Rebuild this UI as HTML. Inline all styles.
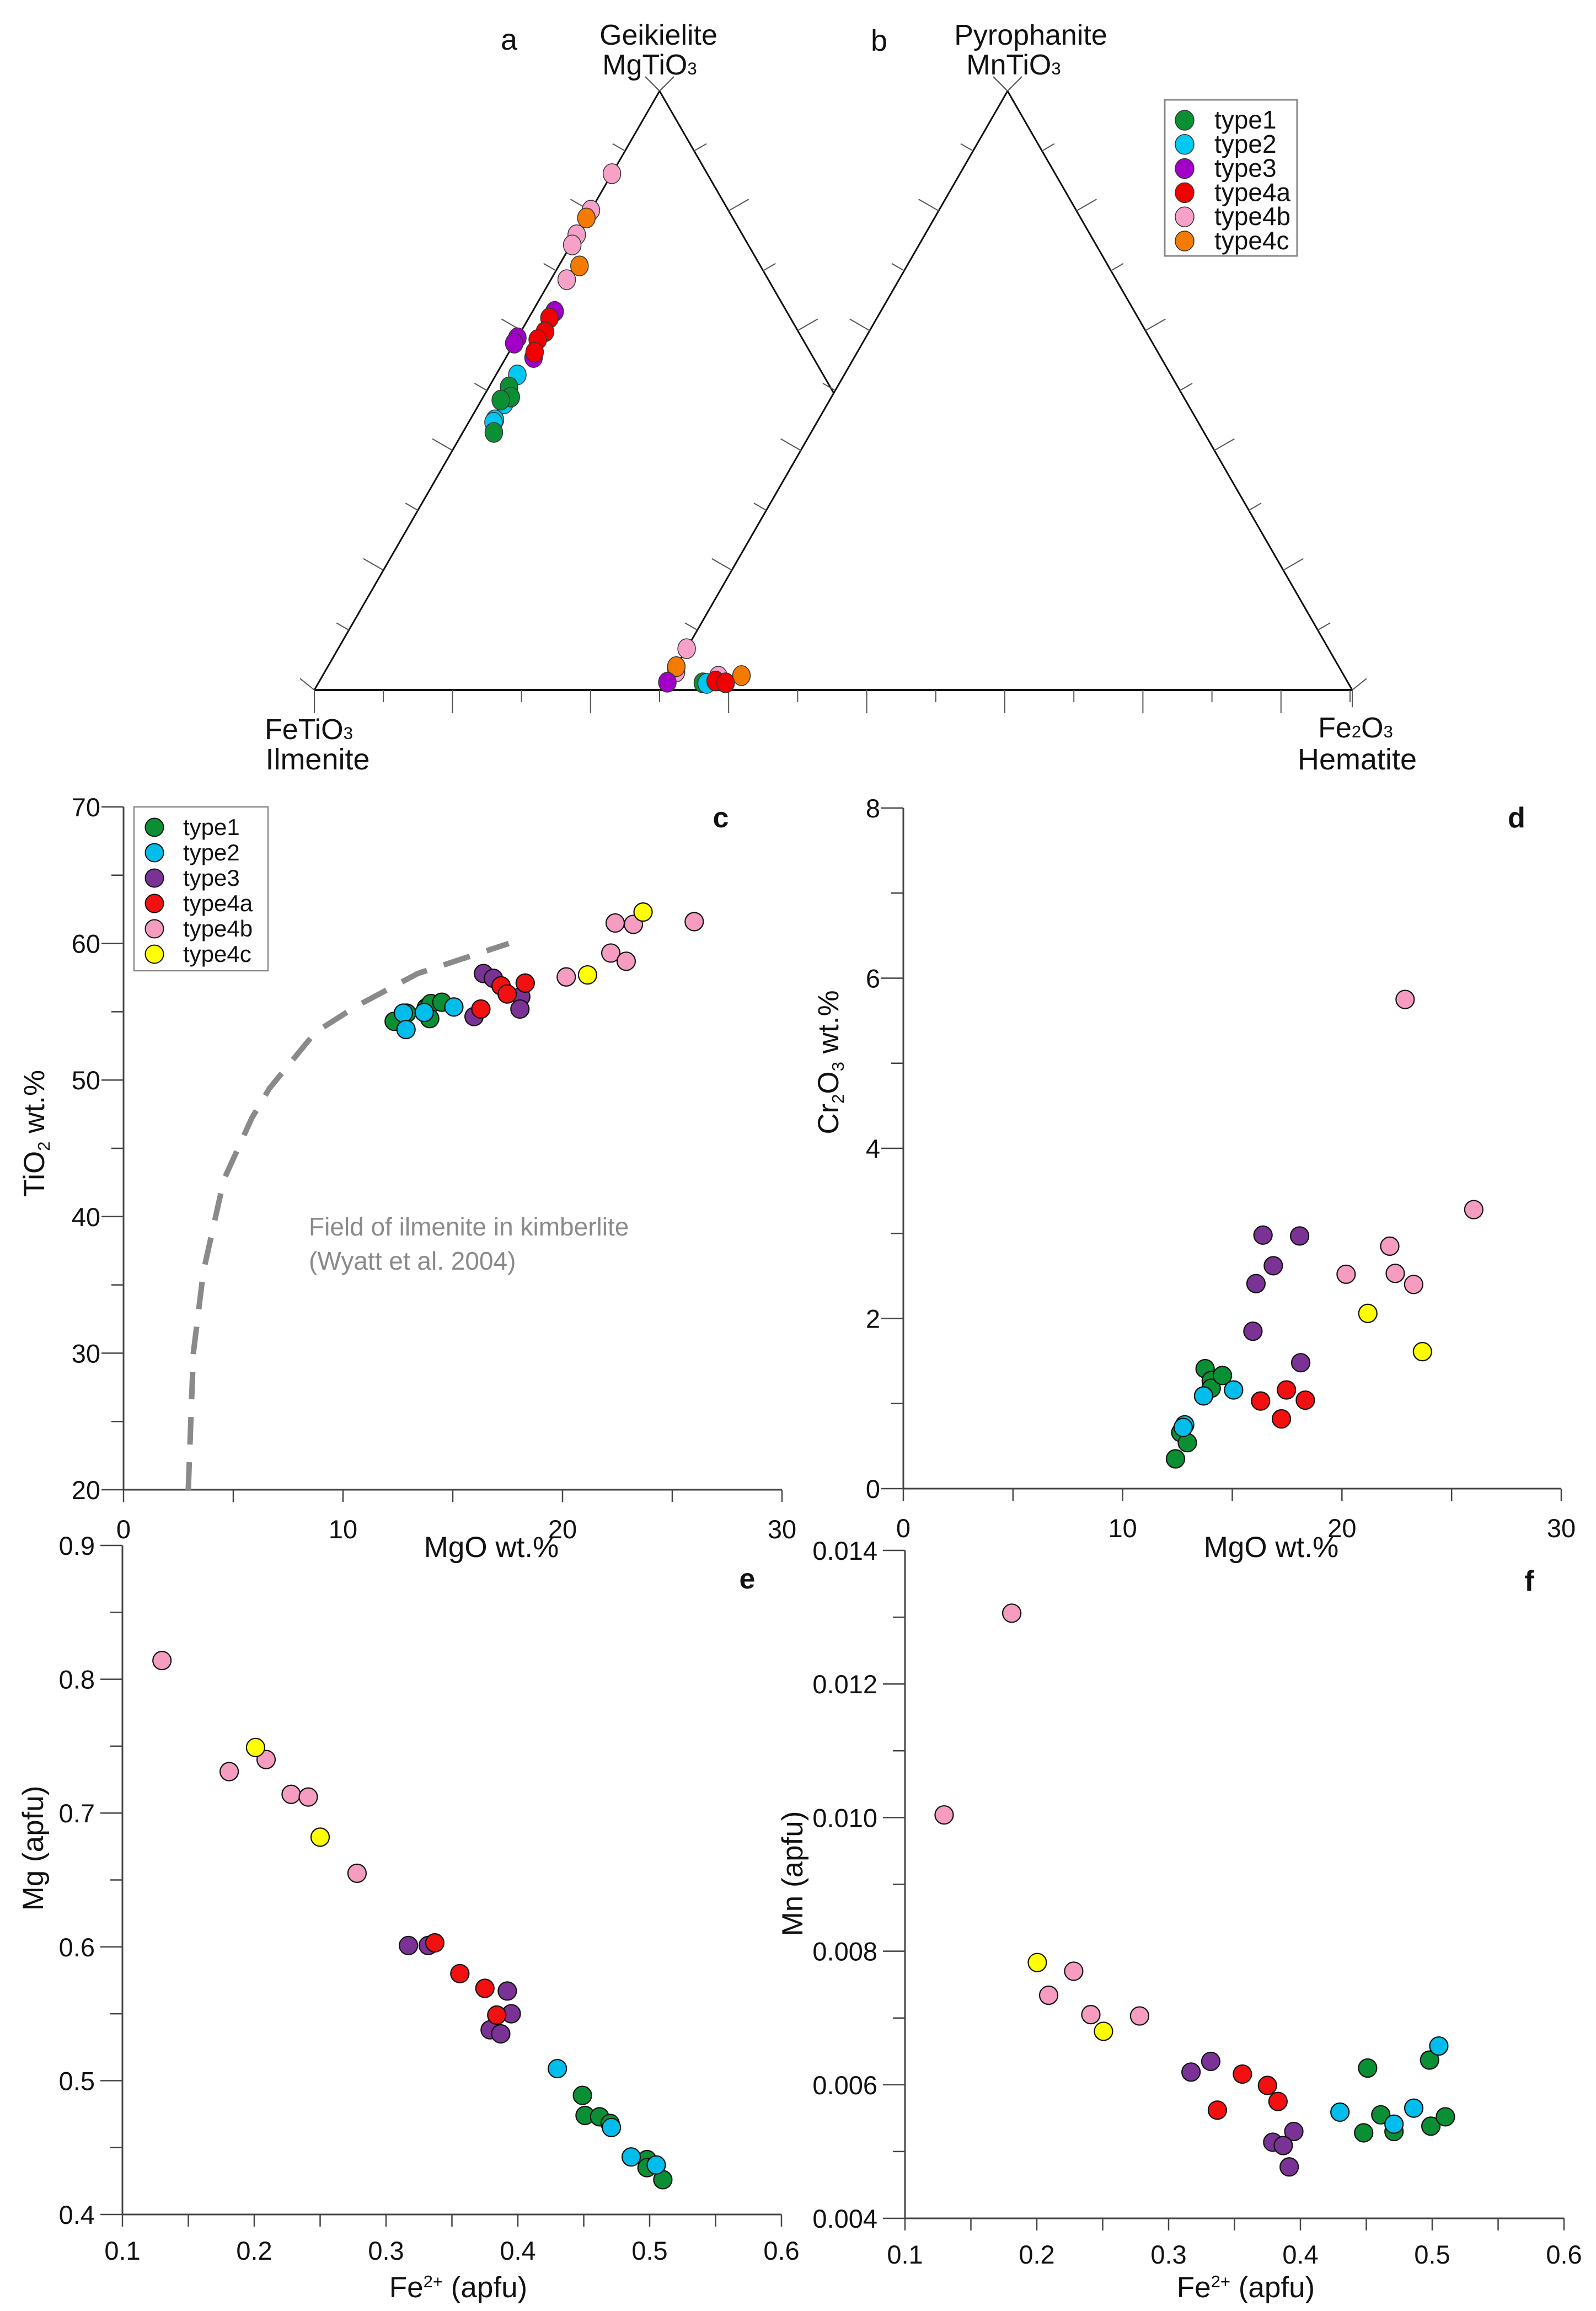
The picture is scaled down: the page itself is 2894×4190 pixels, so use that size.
<!DOCTYPE html>
<html><head><meta charset="utf-8">
<style>
html,body{margin:0;padding:0;background:#fff;}
svg{display:block;}
text{font-family:"Liberation Sans",Arial,sans-serif;fill:#111;}
.cond{font-family:"Liberation Sans Narrow","Liberation Sans",sans-serif;}
</style></head>
<body>
<svg id="fig" xmlns="http://www.w3.org/2000/svg" width="2894" height="4190" viewBox="0 0 2894 4190">
<rect x="0" y="0" width="2894" height="4190" fill="#fff"/>
<g id="tern"></g>
<g id="chartC"></g>
<g id="chartD"></g>
<g id="chartE"></g>
<g id="chartF"></g>
</svg>
<script>
// ---------- data ----------
const typeNames = ["type1","type2","type3","type4a","type4b","type4c"];
// ternary a (fractions MgTiO3, Fe2O3)
const aMg_type1 = [0.506,0.489,0.484,0.43];
const aHem_type1 = [0.029,0.04,0.028,0.045];
const aMg_type2 = [0.526,0.478,0.451,0.447];
const aHem_type2 = [0.031,0.036,0.036,0.036];
const aMg_type3 = [0.632,0.588,0.579,0.555];
const aHem_type3 = [0.032,0.0,0.0,0.04];
const aMg_type4a = [0.621,0.598,0.585,0.564];
const aHem_type4a = [0.03,0.035,0.031,0.037];
const aMg_type4b = [0.862,0.801,0.76,0.743,0.685];
const aHem_type4b = [0.0,0.0,0.0,0.002,0.023];
const aMg_type4c = [0.788,0.708];
const aHem_type4c = [0.0,0.03];
// ternary b (fractions MnTiO3, Fe2O3)
const bMn_type1 = [0.012];
const bHem_type1 = [0.052];
const bMn_type2 = [0.011];
const bHem_type2 = [0.058];
const bMn_type3 = [0.013];
const bHem_type3 = [0.0];
const bMn_type4a = [0.015,0.012];
const bHem_type4a = [0.069,0.085];
const bMn_type4b = [0.069,0.030,0.023];
const bHem_type4b = [0.0,0.004,0.069];
const bMn_type4c = [0.039,0.024];
const bHem_type4c = [0.0,0.102];
// chart c
const cMgO_type1 = [12.33,12.9,13.8,14.0,13.95,14.5];
const cTiO2_type1 = [54.3,54.9,55.3,55.6,54.5,55.7];
const cMgO_type2 = [12.75,12.87,13.7,15.05];
const cTiO2_type2 = [54.9,53.7,54.95,55.35];
const cMgO_type3 = [16.4,16.85,15.97,18.1,18.06];
const cTiO2_type3 = [57.8,57.45,54.65,56.1,55.2];
const cMgO_type4a = [16.28,17.2,17.48,18.3];
const cTiO2_type4a = [55.2,56.9,56.3,57.1];
const cMgO_type4b = [20.17,22.2,22.4,23.23,22.9,26.0];
const cTiO2_type4b = [57.55,59.3,61.5,61.4,58.7,61.6];
const cMgO_type4c = [21.14,23.67];
const cTiO2_type4c = [57.7,62.3];
const fieldMgO = [2.95,3.18,3.64,4.57,5.84,6.65,8.74,10.6,13.4,17.55];
const fieldTiO2 = [20,30,36,42.7,47.2,49.4,53.5,55.4,57.8,60];
const cXTicks = [0,10,20,30];
const cYTicks = [20,30,40,50,60,70];
// chart d
const dMgO_type1 = [12.41,12.65,12.95,13.76,14.04,14.04,14.55];
const dCr_type1 = [0.35,0.66,0.54,1.41,1.27,1.18,1.33];
const dMgO_type2 = [12.83,12.76,13.69,15.06];
const dCr_type2 = [0.75,0.72,1.09,1.16];
const dMgO_type3 = [16.4,16.87,16.08,15.94,18.07,18.12];
const dCr_type3 = [2.98,2.62,2.41,1.85,2.97,1.48];
const dMgO_type4a = [16.29,17.47,17.24,18.33];
const dCr_type4a = [1.03,1.16,0.82,1.04];
const dMgO_type4b = [20.19,22.18,22.43,23.27,22.88,26.01];
const dCr_type4b = [2.52,2.85,2.53,2.40,5.75,3.28];
const dMgO_type4c = [21.18,23.67];
const dCr_type4c = [2.06,1.61];
const dXTicks = [0,10,20,30];
const dYTicks = [0,2,4,6,8];
// chart e
const eFe_type1 = [0.449,0.451,0.462,0.470,0.498,0.498,0.510];
const eMg_type1 = [0.489,0.474,0.473,0.468,0.441,0.435,0.426];
const eFe_type2 = [0.430,0.471,0.486,0.505];
const eMg_type2 = [0.509,0.465,0.443,0.437];
const eFe_type3 = [0.317,0.332,0.392,0.395,0.379,0.387];
const eMg_type3 = [0.601,0.601,0.567,0.550,0.538,0.535];
const eFe_type4a = [0.337,0.356,0.375,0.384];
const eMg_type4a = [0.603,0.580,0.569,0.549];
const eFe_type4b = [0.130,0.181,0.209,0.228,0.241,0.278];
const eMg_type4b = [0.814,0.731,0.740,0.714,0.712,0.655];
const eFe_type4c = [0.201,0.250];
const eMg_type4c = [0.749,0.682];
const eXTicks = ["0.1","0.2","0.3","0.4","0.5","0.6"];
const eYTicks = ["0.4","0.5","0.6","0.7","0.8","0.9"];
// chart f
const fFe_type1 = [0.451,0.448,0.461,0.471,0.498,0.499,0.510];
const fMn_type1 = [0.00625,0.00528,0.00555,0.0053,0.00637,0.00538,0.00552];
const fFe_type2 = [0.430,0.471,0.486,0.505];
const fMn_type2 = [0.00559,0.00541,0.00565,0.00658];
const fFe_type3 = [0.317,0.332,0.395,0.379,0.387,0.3915];
const fMn_type3 = [0.00619,0.00635,0.0053,0.00514,0.00509,0.00477];
const fFe_type4a = [0.337,0.356,0.375,0.383];
const fMn_type4a = [0.00562,0.00616,0.00599,0.00575];
const fFe_type4b = [0.1297,0.181,0.209,0.228,0.241,0.278];
const fMn_type4b = [0.01004,0.01306,0.00734,0.0077,0.00705,0.00703];
const fFe_type4c = [0.2004,0.2506];
const fMn_type4c = [0.00783,0.0068];
const fXTicks = ["0.1","0.2","0.3","0.4","0.5","0.6"];
const fYTicks = ["0.004","0.006","0.008","0.010","0.012","0.014"];

// ---------- helpers ----------
const NS = "http://www.w3.org/2000/svg";
function mk(tag, attrs, parent){
  const e = document.createElementNS(NS, tag);
  for (const k in attrs) e.setAttribute(k, attrs[k]);
  parent.appendChild(e);
  return e;
}
const colA = {type1:"#0b8f35",type2:"#00c8f0",type3:"#a200c8",type4a:"#f20000",type4b:"#f7a0c8",type4c:"#f57a00"};
const colC = {type1:"#0b8f35",type2:"#00bdec",type3:"#7a3394",type4a:"#f21010",type4b:"#f59cc0",type4c:"#ffff00"};

// ---------- ternary ----------
const T = document.getElementById("tern");
const I = [570,1251], G = [1196,165], H1 = [1822,1251];
const L2 = [1202,1251], P = [1827,165], H2 = [2452,1251];
const X = [1512,713];
function tline(a,b,w){
  const l = mk("line",{x1:a[0],y1:a[1],x2:b[0],y2:b[1],stroke:"#111","stroke-width":w||3},T);
  
  
}
tline(I,G); tline(G,X); tline(L2,P); tline(P,H2);
tline(I,H2,4);
function ticksAlong(a,b,nx,ny,n,maxI){
  for (let i=1;i<n;i++){
    if (maxI && i>maxI) break;
    const t=i/n;
    const px=a[0]+(b[0]-a[0])*t, py=a[1]+(b[1]-a[1])*t;
    const len = (i%2===0)?42:26;
    const tk = mk("line",{x1:px,y1:py,x2:px+nx*len,y2:py+ny*len,stroke:"#555","stroke-width":2},T);
    
    
  }
}
ticksAlong(I,G,-0.866,-0.5,10);
ticksAlong(G,H1,0.866,-0.5,10,4);
ticksAlong(L2,P,-0.866,-0.5,10);
ticksAlong(P,H2,0.866,-0.5,10);
// base ticks
for (let i=0;i<=15;i++){
  const x = I[0]+i*125.2;
  const len = (i%2===0)?42:22;
  const tk = mk("line",{x1:x,y1:1251,x2:x,y2:1251+len,stroke:"#555","stroke-width":2},T);
  
  
}
// vertex marks
[[G,[-1,-1],[1,-1]],[P,[-1,-1],[1,-1]],[I,[-1,-0.8],[0,1.2]],[H2,[1,-0.8],[0,1.2]]].forEach(v=>{
  [v[1],v[2]].forEach(d=>{
    const vm = mk("line",{x1:v[0][0],y1:v[0][1],x2:v[0][0]+d[0]*26,y2:v[0][1]+d[1]*26,stroke:"#555","stroke-width":2},T);
    
    
  });
});
function ternPos(A,B,C,fb,fc){
  return [A[0]+fb*(B[0]-A[0])+fc*(C[0]-A[0]), A[1]+fb*(B[1]-A[1])+fc*(C[1]-A[1])];
}
const aSeries = {type1:[aMg_type1,aHem_type1],type2:[aMg_type2,aHem_type2],type3:[aMg_type3,aHem_type3],type4a:[aMg_type4a,aHem_type4a],type4b:[aMg_type4b,aHem_type4b],type4c:[aMg_type4c,aHem_type4c]};
const bSeries = {type1:[bMn_type1,bHem_type1],type2:[bMn_type2,bHem_type2],type3:[bMn_type3,bHem_type3],type4a:[bMn_type4a,bHem_type4a],type4b:[bMn_type4b,bHem_type4b],type4c:[bMn_type4c,bHem_type4c]};
["type4b","type4c","type3","type4a","type2","type1"].forEach(k=>{
  const s=aSeries[k];
  s[0].forEach((m,i)=>{
    const p=ternPos(I,G,H1,m,s[1][i]);
    const c=mk("ellipse",{cx:p[0],cy:p[1],rx:16,ry:18,fill:colA[k],stroke:"#333","stroke-width":1.5},T);
    
    
  });
});
["type4b","type4c","type3","type1","type2","type4a"].forEach(k=>{
  const s=bSeries[k];
  s[0].forEach((m,i)=>{
    const p=ternPos(L2,P,H2,m,s[1][i]);
    const c=mk("ellipse",{cx:p[0],cy:p[1],rx:16,ry:18,fill:colA[k],stroke:"#333","stroke-width":1.5},T);
    
    
  });
});
function ttext(x,y,str,size,anchor,name,sub){
  const t=mk("text",{x:x,y:y,"font-size":size,"text-anchor":anchor||"middle",class:"cond"},T);
  t.textContent=str;
  if(sub){const ts=mk("tspan",{"font-size":size*0.6},t); ts.textContent=sub;}
  
  
  return t;
}
ttext(923,90,"a",54,"middle","panel-label-a");
ttext(1194,81,"Geikielite",52,"middle","apex-label-geikielite");
ttext(1178,135,"MgTiO",52,"middle","apex-formula-mgtio3","3");
ttext(1594,92,"b",54,"middle","panel-label-b");
ttext(1869,81,"Pyrophanite",52,"middle","apex-label-pyrophanite");
ttext(1838,135,"MnTiO",52,"middle","apex-formula-mntio3","3");
ttext(560,1340,"FeTiO",52,"middle","vertex-formula-fetio3","3");
ttext(576,1395,"Ilmenite",54,"middle","vertex-label-ilmenite");
(function(){
  const t=ttext(2458,1337,"Fe",52,"middle","vertex-formula-fe2o3");
  const s=mk("tspan",{"font-size":31},t); s.textContent="2";
  const s2=mk("tspan",{},t); s2.textContent="O";
  const s3=mk("tspan",{"font-size":31},t); s3.textContent="3";
})();
ttext(2461,1395,"Hematite",54,"middle","vertex-label-hematite");
// ternary legend
const lgA = mk("g",{},T);


mk("rect",{x:2112,y:181,width:240,height:283,fill:"#fff",stroke:"#888","stroke-width":3},lgA);
typeNames.forEach((k,i)=>{
  const y=218+i*43.8;
  const c=mk("ellipse",{cx:2148,cy:y,rx:17,ry:18,fill:colA[k],stroke:"#333","stroke-width":1.5},lgA);
  
  
  const t=mk("text",{x:2202,y:y+15,"font-size":46,class:"cond"},lgA);
  t.textContent=k;
  
  
});

// ---------- scatter charts ----------
function scatter(g, cfg){
  const sx = v => cfg.px0 + (v-cfg.xmin)/(cfg.xmax-cfg.xmin)*(cfg.px1-cfg.px0);
  const sy = v => cfg.py0 - (v-cfg.ymin)/(cfg.ymax-cfg.ymin)*(cfg.py0-cfg.py1);
  const ax = mk("line",{x1:cfg.px0,y1:cfg.py0,x2:cfg.px1,y2:cfg.py0,stroke:"#444","stroke-width":3},g);
  
  
  const ay = mk("line",{x1:cfg.px0,y1:cfg.py0,x2:cfg.px0,y2:cfg.py1,stroke:"#444","stroke-width":3},g);
  
  
  const xv = cfg.xticks.map(Number);
  xv.forEach((v,i)=>{
    const x=sx(v);
    const t=mk("line",{x1:x,y1:cfg.py0,x2:x,y2:cfg.py0+22,stroke:"#444","stroke-width":2.5},g);
    
    
    if(i<xv.length-1){
      const xm=sx((v+xv[i+1])/2);
      const tm=mk("line",{x1:xm,y1:cfg.py0,x2:xm,y2:cfg.py0+22,stroke:"#444","stroke-width":2.5},g);
      
      
    }
    const lb=mk("text",{x:x,y:cfg.py0+cfg.xlabOff,"font-size":47,"text-anchor":"middle"},g);
    lb.textContent=cfg.xticks[i];
    
    
  });
  const yv = cfg.yticks.map(Number);
  yv.forEach((v,i)=>{
    const y=sy(v);
    const t=mk("line",{x1:cfg.px0,y1:y,x2:cfg.px0-40,y2:y,stroke:"#444","stroke-width":2.5},g);
    
    
    if(i<yv.length-1){
      const ym=sy((v+yv[i+1])/2);
      const tm=mk("line",{x1:cfg.px0,y1:ym,x2:cfg.px0-22,y2:ym,stroke:"#444","stroke-width":2.5},g);
      
      
    }
    const lb=mk("text",{x:cfg.px0-cfg.ylabOff,y:y+17,"font-size":47,"text-anchor":"end"},g);
    lb.textContent=cfg.yticks[i];
    
    
  });
  if(cfg.extra) cfg.extra(g,sx,sy);
  cfg.order.forEach(k=>{
    const s=cfg.series[k];
    s[0].forEach((xval,i)=>{
      const c=mk("circle",{cx:sx(xval),cy:sy(s[1][i]),r:16.5,fill:colC[k],stroke:"#111","stroke-width":2.2},g);
      
      
    });
  });
  const pl=mk("text",{x:cfg.panel[0],y:cfg.panel[1],"font-size":52,"font-weight":"bold","text-anchor":"middle"},g);
  pl.textContent=cfg.panel[2];
  
  
}
function title(g,x,y,parts,rot,name){
  const t=mk("text",{x:x,y:y,"font-size":53,"text-anchor":"middle"},g);
  if(rot) t.setAttribute("transform","rotate(-90 "+x+" "+y+")");
  parts.forEach(p=>{const ts=mk("tspan",p[1]||{},t); ts.textContent=p[0];});
  
  
}
const order = ["type1","type2","type3","type4a","type4b","type4c"];

// chart c
const gC=document.getElementById("chartC");
scatter(gC,{px0:224,px1:1418,py0:2701,py1:1463,xmin:0,xmax:30,ymin:20,ymax:70,
  xticks:cXTicks,yticks:cYTicks,xlabOff:88,ylabOff:42,order:order,panel:[1307,1500,"c"],
  series:{type1:[cMgO_type1,cTiO2_type1],type2:[cMgO_type2,cTiO2_type2],type3:[cMgO_type3,cTiO2_type3],type4a:[cMgO_type4a,cTiO2_type4a],type4b:[cMgO_type4b,cTiO2_type4b],type4c:[cMgO_type4c,cTiO2_type4c]},
  extra:(g,sx,sy)=>{
    let d="";
    fieldMgO.forEach((v,i)=>{d+=(i?"L":"M")+sx(v).toFixed(1)+","+sy(fieldTiO2[i]).toFixed(1)+" ";});
    const p=mk("path",{d:d,fill:"none",stroke:"#8a8a8a","stroke-width":10,"stroke-dasharray":"50,32"},g);
    
    
    const t1=mk("text",{x:560,y:2240,"font-size":46,style:"fill:#8a8a8a"},g);
    t1.textContent="Field of ilmenite in kimberlite";
    
    
    const t2=mk("text",{x:560,y:2302,"font-size":46,style:"fill:#8a8a8a"},g);
    t2.textContent="(Wyatt et al. 2004)";
    
    
  }});
title(gC,891,2823,[["MgO wt.%"]],false,"x-axis-title");
title(gC,80,2055,[["TiO"],["2",{"font-size":31,dy:10}],[" wt.%",{dy:-10}]],true,"y-axis-title");
// legend c
const lgC=mk("g",{},gC);


mk("rect",{x:243,y:1463,width:243,height:297,fill:"#fff",stroke:"#888","stroke-width":2.5},lgC);
order.forEach((k,i)=>{
  const y=1500+i*46;
  const c=mk("circle",{cx:280,cy:y,r:16.5,fill:colC[k],stroke:"#111","stroke-width":2},lgC);
  
  
  const t=mk("text",{x:332,y:y+14,"font-size":42},lgC);
  t.textContent=k;
  
  
});

// chart d
const gD=document.getElementById("chartD");
scatter(gD,{px0:1638,px1:2831,py0:2699,py1:1465,xmin:0,xmax:30,ymin:0,ymax:8,
  xticks:dXTicks,yticks:dYTicks,xlabOff:88,ylabOff:42,order:order,panel:[2750,1500,"d"],
  series:{type1:[dMgO_type1,dCr_type1],type2:[dMgO_type2,dCr_type2],type3:[dMgO_type3,dCr_type3],type4a:[dMgO_type4a,dCr_type4a],type4b:[dMgO_type4b,dCr_type4b],type4c:[dMgO_type4c,dCr_type4c]}});
title(gD,2305,2823,[["MgO wt.%"]],false,"x-axis-title");
title(gD,1520,1926,[["Cr"],["2",{"font-size":31,dy:10}],["O",{dy:-10}],["3",{"font-size":31,dy:10}],[" wt.%",{dy:-10}]],true,"y-axis-title");

// chart e
const gE=document.getElementById("chartE");
scatter(gE,{px0:222,px1:1417,py0:4015,py1:2802,xmin:0.1,xmax:0.6,ymin:0.4,ymax:0.9,
  xticks:eXTicks,yticks:eYTicks,xlabOff:82,ylabOff:50,order:order,panel:[1355,2880,"e"],
  series:{type1:[eFe_type1,eMg_type1],type2:[eFe_type2,eMg_type2],type3:[eFe_type3,eMg_type3],type4a:[eFe_type4a,eMg_type4a],type4b:[eFe_type4b,eMg_type4b],type4c:[eFe_type4c,eMg_type4c]}});
title(gE,831,4165,[["Fe"],["2+",{"font-size":31,dy:-18}],["  (apfu)",{dy:18}]],false,"x-axis-title");
title(gE,78,3351,[["Mg (apfu)"]],true,"y-axis-title");

// chart f
const gF=document.getElementById("chartF");
scatter(gF,{px0:1641,px1:2836,py0:4022,py1:2811,xmin:0.1,xmax:0.6,ymin:0.004,ymax:0.014,
  xticks:fXTicks,yticks:fYTicks,xlabOff:82,ylabOff:50,order:order,panel:[2773,2884,"f"],
  series:{type1:[fFe_type1,fMn_type1],type2:[fFe_type2,fMn_type2],type3:[fFe_type3,fMn_type3],type4a:[fFe_type4a,fMn_type4a],type4b:[fFe_type4b,fMn_type4b],type4c:[fFe_type4c,fMn_type4c]}});
title(gF,2259,4165,[["Fe"],["2+",{"font-size":31,dy:-18}],["  (apfu)",{dy:18}]],false,"x-axis-title");
title(gF,1455,3397,[["Mn  (apfu)"]],true,"y-axis-title");
</script>
</body></html>
